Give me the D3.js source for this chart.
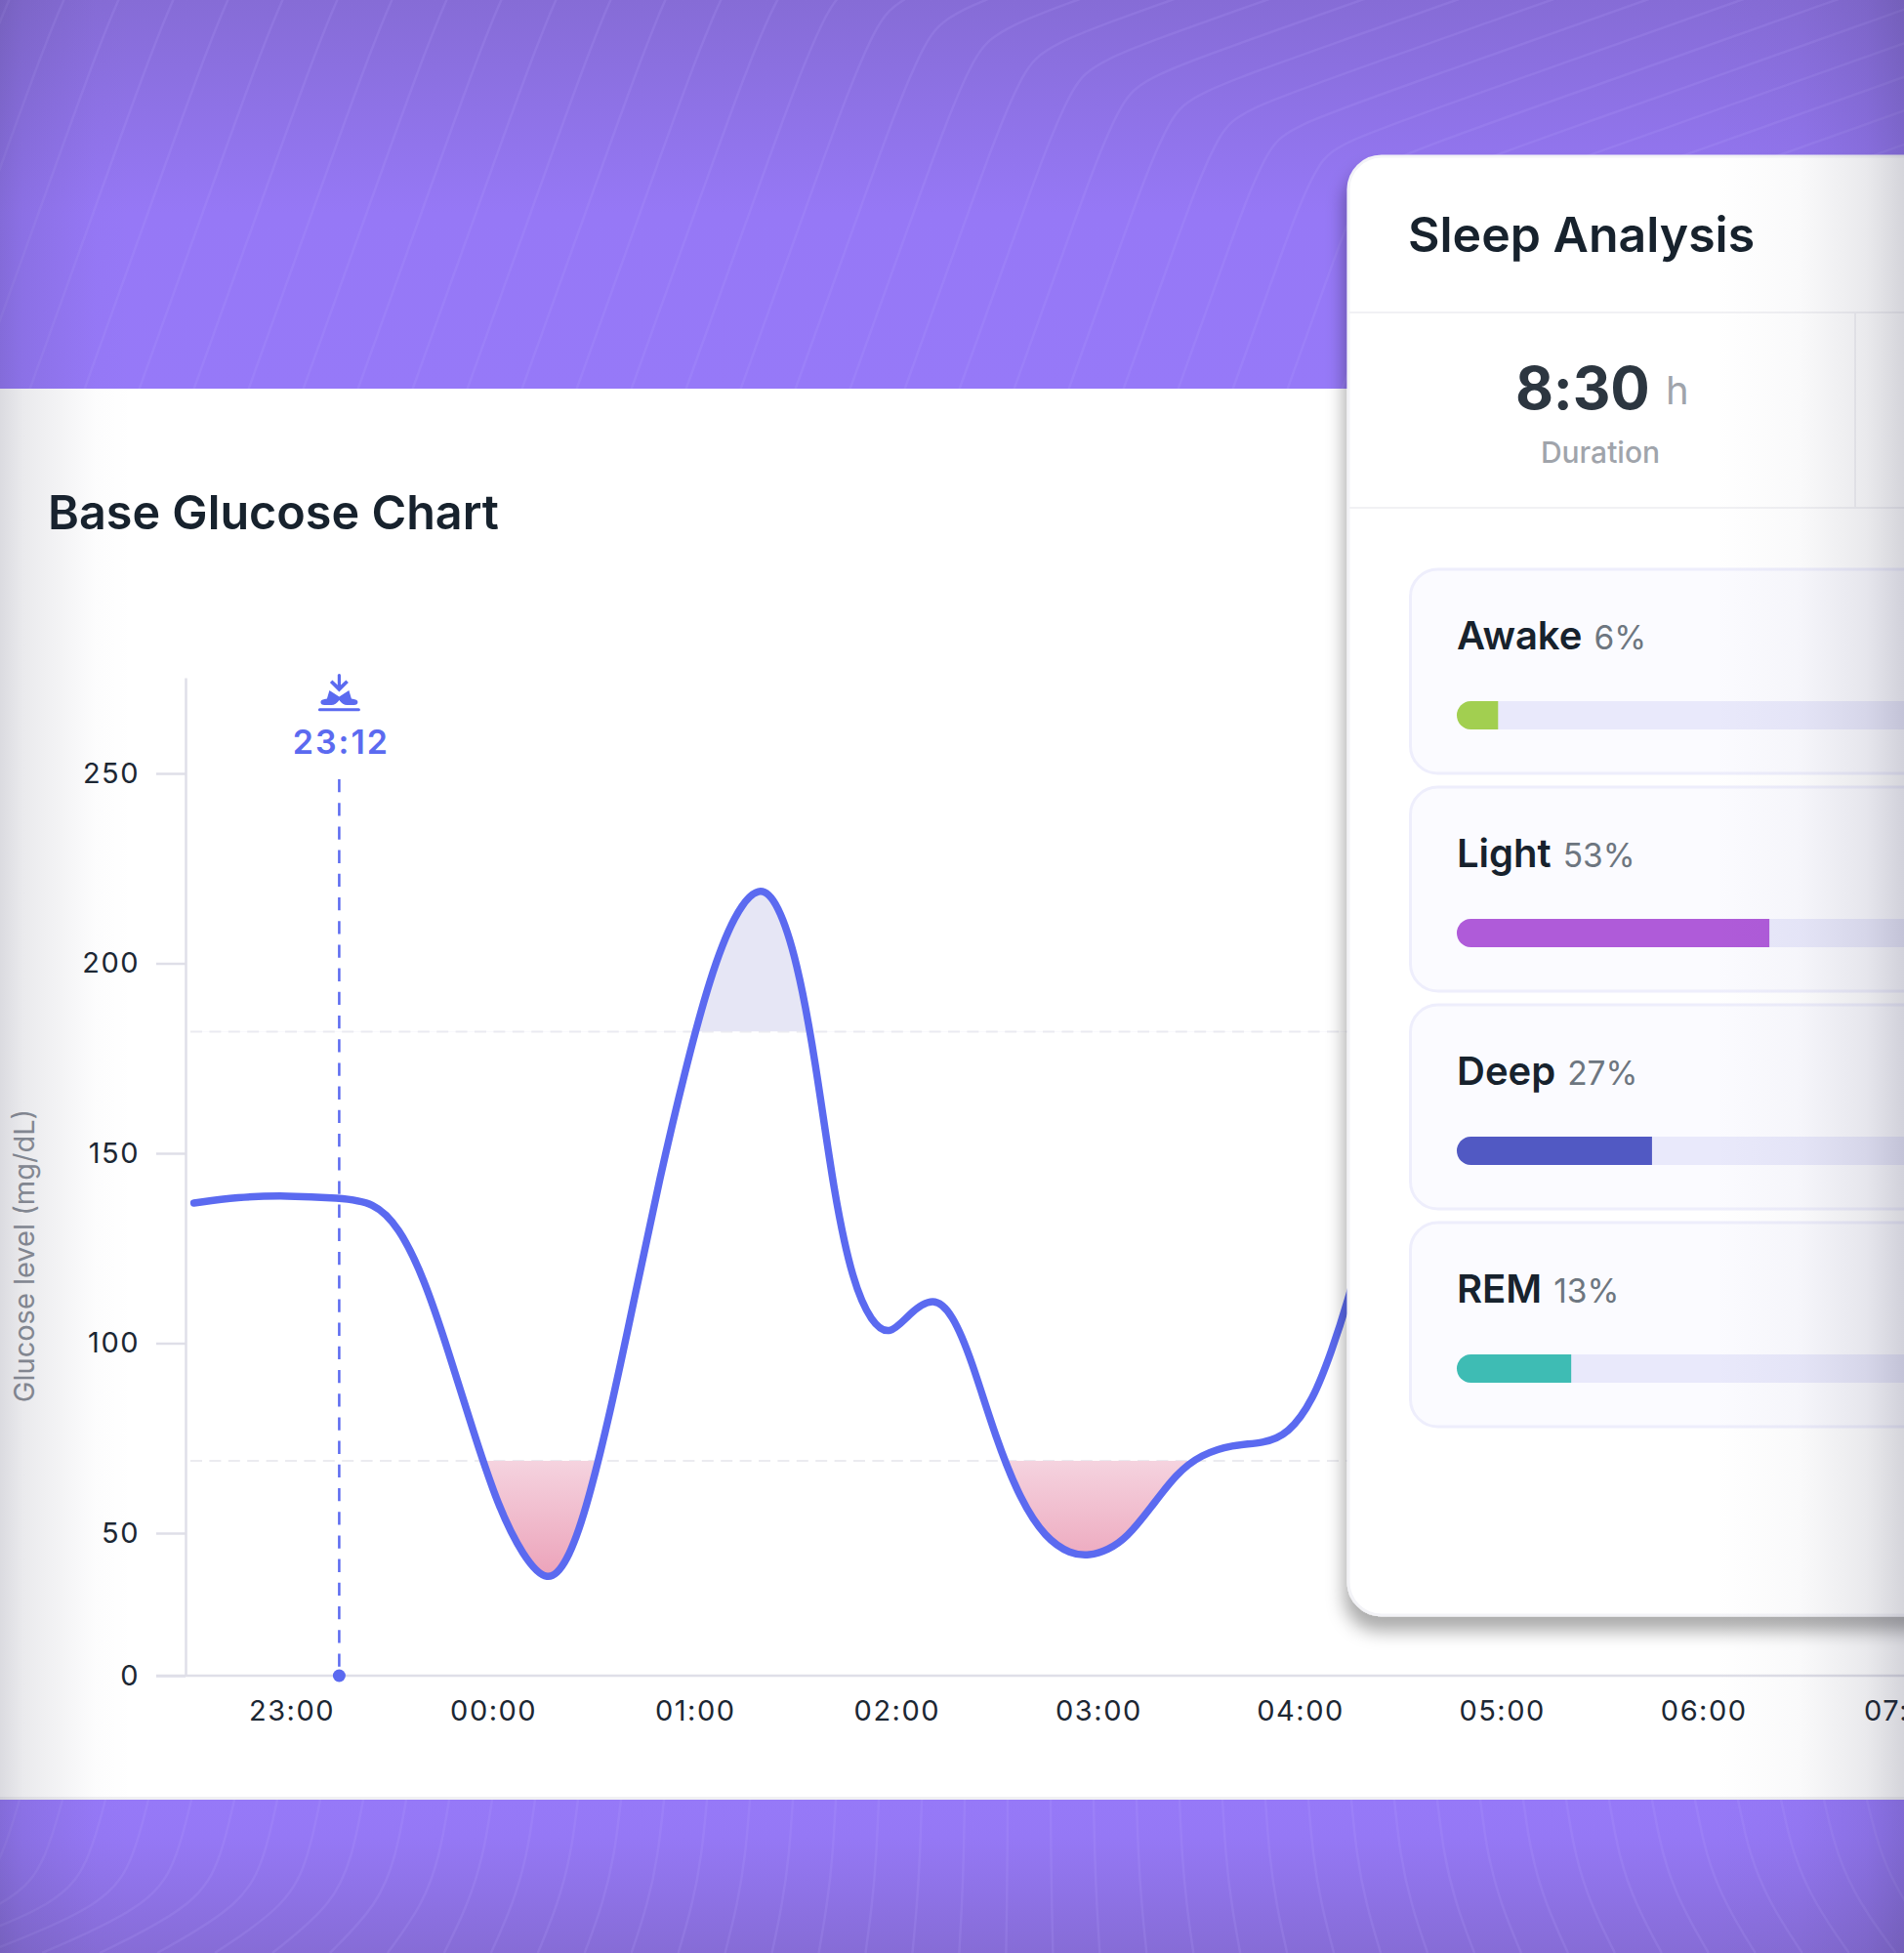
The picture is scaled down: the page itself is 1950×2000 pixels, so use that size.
<!DOCTYPE html>
<html>
<head>
<meta charset="utf-8">
<script src="https://cdn.jsdelivr.net/npm/d3@7"></script>
<style>
  html, body { margin: 0; padding: 0; background: #fff; overflow: hidden; }
  svg { display: block; font-family: Inter, sans-serif; }
</style>
</head>
<body>
<div class="canvas"></div>
<script>
//glucose curve: minutes after 23:00 and mg/dL
const glucoseMinutes = [-29, -16.2, -1.4, 14.2, 24.5, 31.9, 39.3, 46.7, 54.1, 61.5, 68.9, 76.3, 81.9, 87.4, 94.8, 102.2, 109.6, 117, 124.4, 131.8, 139.2, 144.7, 150.3, 155.8, 161.4, 167, 172.5, 178, 183.6, 191, 196.6, 202.1, 209.5, 216.9, 224.3, 231.7, 237.3, 242.8, 248.4, 255.8, 263.2, 270.6, 279.8, 289.1, 296.5, 303.9, 309.4, 313.9, 320];
const glucoseValues = [136.9, 138.5, 138.9, 138.2, 137.2, 130.7, 117.5, 97.9, 76.6, 56.9, 41.7, 32, 39.5, 55.2, 81.5, 112.6, 143.8, 171.6, 196.2, 213.3, 221, 215.9, 201.1, 174.9, 138.9, 115.9, 105.4, 101.8, 107.7, 112.5, 107.7, 96.2, 74.9, 58.5, 48.2, 42.6, 42, 44, 48.2, 56.9, 65.7, 70.7, 73.3, 73.6, 76, 85, 98, 110, 130];

const yTicks = [0, 50, 100, 150, 200, 250];
const highLimit = 182;
const lowLimit = 69;
const markerMinutes = 14.2;
const markerLabel = '23:12';

//sleep card
const stageNames = ['Awake', 'Light', 'Deep', 'REM'];
const stageLabels = ['6%', '53%', '27%', '13%'];
//bar lengths as drawn, they dont follow the labels exactly
const stageBars = [7, 53, 33.1, 19.4];
const stageColors = ['#a2cf50', '#af5bd9', '#5159c3', '#3ebcb4'];

const dims = { width: 1950, height: 2000 };
const lineColor = '#5b6af0';
const axisColor = '#dfdfe8';
const textColor = '#17222d';

const svg = d3.select('.canvas')
    .append('svg')
    .attr('width', dims.width)
    .attr('height', dims.height);

const defs = svg.append('defs');

const gradient = (id, attrs, stops) => {
    const g = defs.append('linearGradient').attr('id', id);
    Object.entries(attrs).forEach(([k, v]) => g.attr(k, v));
    stops.forEach(s => g.append('stop')
        .attr('offset', s[0])
        .attr('stop-color', s[1])
        .attr('stop-opacity', s[2] === undefined ? 1 : s[2]));
};

gradient('topBand', { x1: 0, x2: 0, y1: 0, y2: 1 }, [[0, '#866cd6'], [0.55, '#9678f6'], [1, '#9679f8']]);
gradient('bottomBand', { x1: 0, x2: 0, y1: 0, y2: 1 }, [[0, '#9679f8'], [0.25, '#9578f5'], [1, '#866cd6']]);
gradient('vignette', { x1: 0, x2: 1, y1: 0, y2: 0 }, [
    [0, '#2a2a48', 0.17], [0.012, '#2a2a48', 0.1], [0.05, '#2a2a48', 0.012], [0.07, '#2a2a48', 0],
    [0.9, '#2a2a48', 0], [0.945, '#2a2a48', 0.025], [0.98, '#2a2a48', 0.1], [1, '#2a2a48', 0.2]
]);

const shadow = defs.append('filter').attr('id', 'cardShadow')
    .attr('x', '-10%').attr('y', '-10%').attr('width', '120%').attr('height', '120%');
shadow.append('feDropShadow')
    .attr('dx', -3).attr('dy', 15).attr('stdDeviation', 9)
    .attr('flood-color', '#000').attr('flood-opacity', 0.33);

//background bands
svg.append('rect').attr('width', dims.width).attr('height', 398).attr('fill', 'url(#topBand)');
svg.append('rect').attr('y', 1843).attr('width', dims.width).attr('height', 157).attr('fill', 'url(#bottomBand)');

//faint contour lines, only decoration
const bgLine = d3.line().curve(d3.curveBasis);
const bgLines = svg.append('g')
    .attr('fill', 'none')
    .attr('stroke', '#b9a8ff')
    .attr('stroke-opacity', 0.16)
    .attr('stroke-width', 2.5);

d3.range(-250, 1900, 56).forEach(b => {
    const bendY = Math.max(-60, (b - 750) * 0.3);
    const bendX = b + (400 - bendY) * 0.36;
    bgLines.append('path').attr('d', bgLine([
        [b, 400], [b + (400 - bendY) * 0.18, 200 + bendY / 2],
        [bendX, bendY], [bendX + 40, bendY - 14],
        [bendX + 900, bendY - 320]
    ]));
});

d3.range(20, 1950, 44).forEach(t => {
    const spread = (t - 1050) / 1000;
    bgLines.append('path').attr('d', bgLine([
        [t, 1843],
        [t + spread * 16, 1900],
        [t + spread * 45, 1950],
        [t + spread * 90 - (t < 500 ? (500 - t) * 0.25 : 0), 2000]
    ]));
});

//white chart panel
svg.append('rect').attr('y', 398).attr('width', dims.width).attr('height', 1445).attr('fill', '#fff');
svg.append('rect').attr('y', 1840).attr('width', dims.width).attr('height', 3).attr('fill', '#f1f1f3');

svg.append('text')
    .attr('x', 49).attr('y', 542)
    .attr('font-size', 48.5).attr('font-weight', 600)
    .attr('fill', textColor)
    .text('Base Glucose Chart');

//scales, the stretch between 0 and 50 is squeezed in the original
const baseDate = new Date(2024, 0, 1, 23, 0).getTime();
const toDate = m => new Date(baseDate + m * 60000);

const x = d3.scaleTime()
    .domain([toDate(-30), toDate(510)])
    .range([195.2, 2054.6]);

const y = d3.scaleLinear()
    .domain([0, 50, 250, 275])
    .range([1716, 1570, 792, 694]);

const glucose = glucoseMinutes.map((m, i) => ({ date: toDate(m), value: glucoseValues[i] }));

//axes
const yAxis = d3.axisLeft(y)
    .tickValues(yTicks)
    .tickSize(30)
    .tickSizeOuter(0)
    .tickPadding(17);

const xAxis = d3.axisBottom(x)
    .ticks(d3.timeHour.every(1))
    .tickSize(0)
    .tickSizeOuter(0)
    .tickPadding(25)
    .tickFormat(d3.timeFormat('%H:%M'));

const styleAxis = (g) => {
    g.selectAll('line, path').attr('stroke', axisColor).attr('stroke-width', 2.5);
    g.selectAll('text')
        .attr('font-family', 'Inter, sans-serif')
        .attr('font-size', 29)
        .attr('letter-spacing', 1.5)
        .attr('fill', '#1c2733');
};

svg.append('line')
    .attr('x1', 160).attr('x2', dims.width)
    .attr('y1', y(0)).attr('y2', y(0))
    .attr('stroke', axisColor).attr('stroke-width', 2.5);

svg.append('g')
    .attr('transform', `translate(190, 0)`)
    .call(yAxis)
    .call(styleAxis);

const xAxisGroup = svg.append('g')
    .attr('transform', `translate(0, ${y(0)})`)
    .call(xAxis)
    .call(styleAxis);
xAxisGroup.select('.domain').remove();

svg.append('text')
    .attr('transform', 'translate(35, 1286) rotate(-90)')
    .attr('text-anchor', 'middle')
    .attr('font-size', 29)
    .attr('fill', '#8b9098')
    .text('Glucose level (mg/dL)');

//limit lines
svg.selectAll('.limit')
    .data([highLimit, lowLimit])
    .enter()
    .append('line')
    .attr('class', 'limit')
    .attr('x1', 195).attr('x2', 1380)
    .attr('y1', d => y(d)).attr('y2', d => y(d))
    .attr('stroke', '#ebebf0')
    .attr('stroke-width', 2)
    .attr('stroke-dasharray', '12 7.4');

//areas past the limits, clipped to each side of the limit
defs.append('clipPath').attr('id', 'aboveHigh')
    .append('rect').attr('x', 190).attr('y', y(275)).attr('width', 1200).attr('height', y(highLimit) - y(275));
defs.append('clipPath').attr('id', 'belowLow')
    .append('rect').attr('x', 190).attr('y', y(lowLimit)).attr('width', 1200).attr('height', y(0) - y(lowLimit));

gradient('lowFill', { gradientUnits: 'userSpaceOnUse', x1: 0, x2: 0, y1: y(lowLimit), y2: y(35) },
    [[0, '#f5d3df'], [1, '#eca3ba']]);

const limitArea = (limit) => d3.area()
    .x(d => x(d.date))
    .y0(y(limit))
    .y1(d => y(d.value))
    .curve(d3.curveBasis);

svg.append('path')
    .datum(glucose)
    .attr('clip-path', 'url(#aboveHigh)')
    .attr('fill', '#e6e6f5')
    .attr('d', limitArea(highLimit));

svg.append('path')
    .datum(glucose)
    .attr('clip-path', 'url(#belowLow)')
    .attr('fill', 'url(#lowFill)')
    .attr('d', limitArea(lowLimit));

//glucose line
svg.append('path')
    .datum(glucose)
    .attr('fill', 'none')
    .attr('stroke', lineColor)
    .attr('stroke-width', 7.5)
    .attr('stroke-linecap', 'round')
    .attr('d', d3.line()
        .x(d => x(d.date))
        .y(d => y(d.value))
        .curve(d3.curveBasis));

//falling asleep marker
const markerX = x(toDate(markerMinutes));

svg.append('line')
    .attr('x1', markerX).attr('x2', markerX)
    .attr('y1', 798).attr('y2', y(0))
    .attr('stroke', lineColor)
    .attr('stroke-width', 2.5)
    .attr('stroke-dasharray', '13.3 10.9');

svg.append('circle')
    .attr('cx', markerX).attr('cy', y(0)).attr('r', 6.5)
    .attr('fill', lineColor);

svg.append('text')
    .attr('x', markerX + 2).attr('y', 772)
    .attr('text-anchor', 'middle')
    .attr('font-size', 34).attr('font-weight', 600)
    .attr('letter-spacing', 2)
    .attr('fill', lineColor)
    .text(markerLabel);

const icon = svg.append('g')
    .attr('transform', `translate(${markerX}, 0)`)
    .attr('fill', lineColor);
icon.append('rect').attr('x', -1.6).attr('y', 690).attr('width', 3.2).attr('height', 14).attr('rx', 1.5);
icon.append('path').attr('d', 'M-9.5,699 L-7,696.5 L0,703 L7,696.5 L9.5,699 L0,708.5 Z');
icon.append('path').attr('d', 'M-19,719 Q-19,716.5 -15,716 L-12.5,715.5 L-10,707 L0,713.5 L10,707 L12.5,715.5 L15,716 Q19,716.5 19,719 Q19,722 15,722 L8,722 Q3.5,722 0,717 Q-3.5,722 -8,722 L-15,722 Q-19,722 -19,719 Z');
icon.append('rect').attr('x', -21.5).attr('y', 725.2).attr('width', 43).attr('height', 3).attr('rx', 1.5);

//sleep card
const card = svg.append('g');

card.append('rect')
    .attr('x', 1381).attr('y', 160)
    .attr('width', 800).attr('height', 1494)
    .attr('rx', 34)
    .attr('fill', '#fff')
    .attr('stroke', '#f3f3f7')
    .attr('stroke-width', 3)
    .attr('filter', 'url(#cardShadow)');

card.append('text')
    .attr('x', 1442).attr('y', 258)
    .attr('font-size', 50).attr('font-weight', 600)
    .attr('fill', textColor)
    .text('Sleep Analysis');

card.selectAll('.divider')
    .data([320, 520])
    .enter()
    .append('line')
    .attr('class', 'divider')
    .attr('x1', 1382).attr('x2', dims.width)
    .attr('y1', d => d).attr('y2', d => d)
    .attr('stroke', '#f1f1f4').attr('stroke-width', 2);

card.append('line')
    .attr('x1', 1900).attr('x2', 1900)
    .attr('y1', 320).attr('y2', 520)
    .attr('stroke', '#f1f1f4').attr('stroke-width', 2);

card.append('text')
    .attr('x', 1552).attr('y', 419)
    .attr('font-size', 60).attr('font-weight', 700)
    .attr('letter-spacing', -0.2)
    .attr('fill', '#2c3640')
    .text('8:30');

card.append('text')
    .attr('x', 1706).attr('y', 414)
    .attr('font-size', 40)
    .attr('fill', '#a0a4ab')
    .text('h');

card.append('text')
    .attr('x', 1639).attr('y', 474)
    .attr('text-anchor', 'middle')
    .attr('font-size', 30)
    .attr('font-weight', 500)
    .attr('fill', '#a0a4ab')
    .text('Duration');

//stage panels
const barScale = d3.scaleLinear().domain([0, 100]).range([0, 604]);
const panelHeight = 209;
const barHeight = 29;
const barLeft = 1492;

const panels = card.selectAll('.stage')
    .data(stageNames)
    .enter()
    .append('g')
    .attr('class', 'stage')
    .attr('transform', (d, i) => `translate(0, ${583 + i * 223})`);

panels.append('rect')
    .attr('x', 1444.5).attr('width', 700).attr('height', panelHeight)
    .attr('rx', 28)
    .attr('fill', '#fbfbff')
    .attr('stroke', '#eeeefc')
    .attr('stroke-width', 3);

panels.append('rect')
    .attr('x', barLeft + 10).attr('y', 135).attr('width', 500).attr('height', barHeight)
    .attr('fill', '#e9e9fb');

panels.append('path')
    .attr('fill', (d, i) => stageColors[i])
    .attr('d', (d, i) => {
        const w = barScale(stageBars[i]);
        const r = barHeight / 2;
        return `M${barLeft + w},135 H${barLeft + r} A${r},${r} 0 0 0 ${barLeft + r},${135 + barHeight} H${barLeft + w} Z`;
    });

const stageText = panels.append('text')
    .attr('x', barLeft).attr('y', 82);

stageText.append('tspan')
    .attr('font-size', 40).attr('font-weight', 600)
    .attr('fill', textColor)
    .text(d => d);

stageText.append('tspan')
    .attr('dx', 12)
    .attr('font-size', 33.5)
    .attr('fill', '#6d7680')
    .text((d, i) => stageLabels[i]);

//edge shading over everything
svg.append('rect')
    .attr('width', dims.width).attr('height', dims.height)
    .attr('fill', 'url(#vignette)')
    .attr('pointer-events', 'none');
</script>
</body>
</html>
